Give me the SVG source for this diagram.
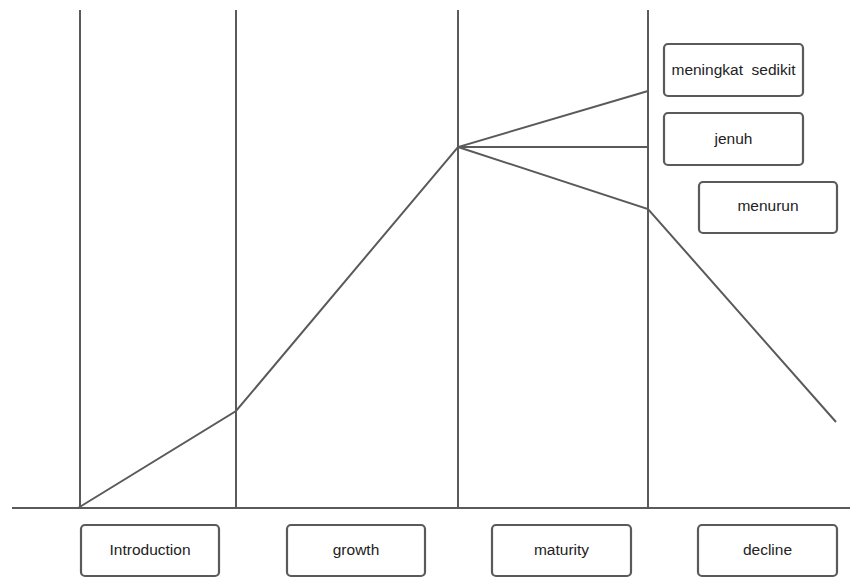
<svg xmlns="http://www.w3.org/2000/svg" width="858" height="578" viewBox="0 0 858 578">
<style>
.ln{stroke:#5a5a5a;stroke-width:2;fill:none}
.bx{fill:#fff;stroke:#5a5a5a;stroke-width:2.2}
.t{font-family:"Liberation Sans",Arial,sans-serif;font-size:15.5px;fill:#222;text-anchor:middle;dominant-baseline:central;white-space:pre}
</style>
<rect width="858" height="578" fill="#fff"/>
<g id="connectors">
<line class="ln" x1="80" y1="10" x2="80" y2="508"/>
<line class="ln" x1="236" y1="10" x2="236" y2="508"/>
<line class="ln" x1="458" y1="10" x2="458" y2="508"/>
<line class="ln" x1="648" y1="10" x2="648" y2="508"/>
<line class="ln" x1="12" y1="508" x2="850" y2="508"/>
<polyline class="ln" points="78,508 236,411 458,147 648,91"/>
<line class="ln" x1="458" y1="147" x2="648" y2="147"/>
<polyline class="ln" points="458,147 648,209 836,422"/>
</g>
<g id="meningkat"><rect class="bx" x="664" y="44" width="139" height="52" rx="4"/><text class="t" x="733.5" y="69" xml:space="preserve">meningkat  sedikit</text></g>
<g id="jenuh"><rect class="bx" x="664" y="113" width="139" height="52" rx="4"/><text class="t" x="733.5" y="138">jenuh</text></g>
<g id="menurun"><rect class="bx" x="699" y="182" width="138" height="51" rx="4"/><text class="t" x="768" y="205.5">menurun</text></g>
<g id="introduction"><rect class="bx" x="81" y="525" width="138" height="51" rx="4"/><text class="t" x="150" y="549">Introduction</text></g>
<g id="growth"><rect class="bx" x="287" y="525" width="138" height="51" rx="4"/><text class="t" x="356" y="549">growth</text></g>
<g id="maturity"><rect class="bx" x="492" y="525" width="139" height="51" rx="4"/><text class="t" x="561.5" y="549">maturity</text></g>
<g id="decline"><rect class="bx" x="698" y="525" width="139" height="51" rx="4"/><text class="t" x="767.5" y="549">decline</text></g>
</svg>
